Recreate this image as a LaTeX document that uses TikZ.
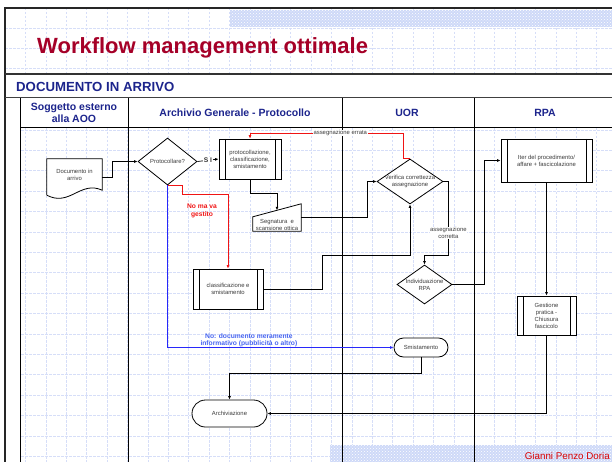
\documentclass[tikz,border=0pt]{standalone}
\usepackage{fontspec}
\setmainfont{Liberation Sans}
\usepackage{xcolor}
\usepackage{tikz}
\usetikzlibrary{arrows.meta,shapes.geometric,patterns}

\definecolor{titlered}{RGB}{165,0,40}
\definecolor{lanenavy}{RGB}{28,36,140}
\definecolor{gridblue}{RGB}{214,222,248}
\definecolor{bandblue}{RGB}{206,217,248}
\definecolor{flowred}{RGB}{240,20,20}
\definecolor{flowblue}{RGB}{40,40,250}
\definecolor{lblblue}{RGB}{70,100,240}
\definecolor{boxgray}{RGB}{60,60,60}

\begin{document}
\begin{tikzpicture}[x=1pt,y=-1pt,>={Latex[length=3.5pt,width=3pt]},
tiny/.style={font=\fontsize{5.9}{7}\selectfont,text=boxgray,align=center},
proc/.style={draw,line width=0.8pt,fill=white,inner sep=0pt,tiny,
  path picture={\draw[line width=0.8pt]
    ([xshift=6pt]path picture bounding box.north west)--([xshift=6pt]path picture bounding box.south west)
    ([xshift=-6pt]path picture bounding box.north east)--([xshift=-6pt]path picture bounding box.south east);}},
dec/.style={diamond,draw,line width=0.8pt,fill=white,inner sep=0pt},
term/.style={draw,line width=0.8pt,fill=white,inner sep=0pt,tiny},
hidden/.style={draw=none,inner sep=0pt},
flow/.style={->,line width=0.7pt},
nogo/.style={flow,draw=flowred},
info/.style={flow,draw=flowblue},
lbl/.style={tiny,fill=white,inner sep=0.5pt},
lane/.style={font=\fontsize{10.5}{11.7}\selectfont\bfseries,text=lanenavy,align=center},
gridline/.style={draw=gridblue,line width=0.35pt,dash pattern=on 2.5pt off 1.5pt},
sep/.style={line width=0.8pt}]
\useasboundingbox (0,0) rectangle (612,462);

% grid
\begin{scope}
\clip (5,8) rectangle (612,74) (20,127) rectangle (612,462);
\foreach \i in {0,...,30} \draw[gridline] (5+20.4*\i,8)--(5+20.4*\i,462);
\foreach \j in {0,...,22} \draw[gridline] (5,7.4+20.4*\j)--(612,7.4+20.4*\j);
\end{scope}
\fill[bandblue] (230,10) rectangle (612,27);
\fill[pattern=crosshatch dots,pattern color=white] (230,10) rectangle (612,27);
\fill[bandblue] (330,445) rectangle (612,462);
\fill[pattern=crosshatch dots,pattern color=white] (330,445) rectangle (612,462);

% frame and lanes
\draw[line width=1.6pt,black!85] (5,462)--(5,8)--(612,8);
\draw[line width=1.3pt,black!80] (5,74)--(612,74);
\draw[line width=1pt,black!75] (5,98)--(612,98);
\draw[sep] (20,127)--(612,127);
\foreach \x in {20,128,342,474} \draw[sep] (\x,98)--(\x,462);

\node[anchor=base west,inner sep=0pt,font=\fontsize{22}{26}\selectfont\bfseries,text=titlered] (title) at (37,54) {Workflow management ottimale};
\node[anchor=base west,inner sep=0pt,font=\fontsize{13.2}{15}\selectfont\bfseries,text=lanenavy] (section) at (16,91.5) {DOCUMENTO IN ARRIVO};
\node[lane] (soggetto) at (74,113) {Soggetto esterno\\alla AOO};
\node[lane] (archivio) at (235,113) {Archivio Generale - Protocollo};
\node[lane] (uor) at (407,113) {UOR};
\node[lane] (rpa) at (545,113) {RPA};

% shapes
\node[hidden,minimum width=55pt,minimum height=36pt] (doc) at (74.5,177) {};
\draw[line width=0.8pt,fill=white] (doc.south west)--(doc.north west)--(doc.north east)--([yshift=5pt]doc.south east)
  .. controls ([xshift=-22pt,yshift=15pt]doc.south east) and ([xshift=23pt,yshift=-12pt]doc.south west) .. (doc.south west);
\node[tiny,inner sep=0pt] (doctext) at (74.5,174.5) {Documento in\\arrivo};
\node[dec,minimum width=59pt,minimum height=47pt,label={[tiny]center:Protocollare?}] (prot) at (167.5,161.5) {};
\node[proc,minimum width=62pt,minimum height=40pt] (protbox) at (250,159) {protocollazione,\\classificazione,\\smistamento};
\node[hidden,minimum width=48pt,minimum height=27pt] (segn) at (277,217.5) {};
\draw[line width=0.8pt,fill=white] ([yshift=-13pt]segn.north west)--(segn.north east)--(segn.south east)--(segn.south west)--cycle;
\node[tiny,inner sep=0pt] (segntext) at (277,224.5) {Segnatura\ \ e\\scansione ottica};
\coordinate (segntop) at ([yshift=-6.5pt]segn.north);
\node[proc,minimum width=70pt,minimum height=40pt] (classbox) at (228,289) {classificazione e\\smistamento};
\node[dec,minimum width=66pt,minimum height=45pt,label={[tiny]center:Verifica correttezza\\assegnazione}] (verif) at (410,181.5) {};
\node[dec,minimum width=55pt,minimum height=39pt,label={[tiny]center:Individuazione\\RPA}] (indiv) at (424.5,284.5) {};
\node[term,rounded corners=9.5pt,minimum width=54pt,minimum height=19pt] (smist) at (421,347.5) {Smistamento};
\node[proc,minimum width=91pt,minimum height=43pt] (iter) at (546.5,160.5) {Iter del procedimento/\\affare + fascicolazione};
\node[proc,minimum width=59pt,minimum height=39pt] (gest) at (546.5,315.5) {Gestione\\pratica -\\Chiusura\\fascicolo};
\node[term,rounded corners=13.5pt,minimum width=75pt,minimum height=27pt] (arch) at (229.5,413.5) {Archiviazione};
\coordinate (errtop) at (403,133);

% connectors
\draw[flow] (doc.east)--++(10,0)|-(prot.west);
\draw[flow] (prot.east)--node[lbl,font=\fontsize{6.7}{8}\selectfont\bfseries,text=black!80]{S I}(protbox.west);
\draw[flow] (protbox.south)--++(0,14)-|(segntop);
\draw[flow] (segn.east)--++(66,0)|-(verif.west);
\draw[nogo] (verif.north)-|(errtop)--node[lbl,pos=0.41]{assegnazione errata}(errtop-|protbox.north)--(protbox.north);
\draw[flow] (verif.east)--++(5,0)--node[lbl,pos=0.7]{assegnazione\\corretta}++(0,73.5)-|(indiv.north);
\draw[flow] (indiv.east)--++(32,0)|-(iter.west);
\draw[flow] (iter.south)--(gest.north);
\draw[flow] (gest.south)|-(arch.east);
\draw[nogo] (prot.south)--++(15,0)--++(0,9)-|(classbox.north);
\node[font=\fontsize{6.7}{8.3}\selectfont\bfseries,text=flowred,align=center,inner sep=0pt] (nomava) at (202,211) {No ma va\\gestito};
\draw[flow] (classbox.east)--++(59,0)--++(0,-34)-|(verif.south);
\draw[info] (prot.south)|-node[pos=0.68,anchor=south,inner sep=0pt,font=\fontsize{6.7}{7.7}\selectfont\bfseries,text=lblblue,align=center]{No: documento meramente\\informativo (pubblicità o altro)}(smist.west);
\draw[flow] (smist.south)--++(0,16)-|(arch.north);

\node[anchor=base east,inner sep=0pt,font=\fontsize{9.8}{11}\selectfont,text=red!85!black] (author) at (610,459.5) {Gianni Penzo Doria};
\end{tikzpicture}
\end{document}
